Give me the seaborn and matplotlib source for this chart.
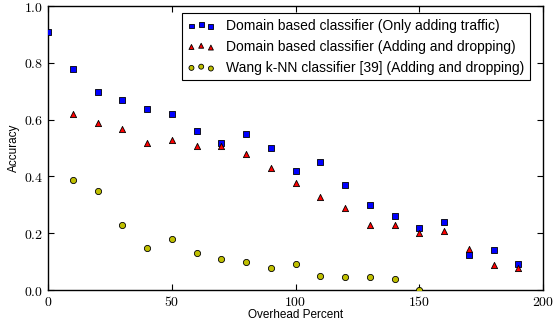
import matplotlib
matplotlib.use("Agg")
import matplotlib.pyplot as plt
import seaborn as sns
import numpy as np
from matplotlib.ticker import FuncFormatter, FixedLocator

# ---- data ----
x_blue = [0, 10, 20, 30, 40, 50, 60, 70, 80, 90, 100, 110, 120, 130, 140, 150, 160, 170, 180, 190]
y_blue = [0.907, 0.778, 0.698, 0.669, 0.638, 0.619, 0.559, 0.519, 0.548, 0.499,
          0.419, 0.452, 0.369, 0.299, 0.259, 0.219, 0.239, 0.124, 0.140, 0.090]
x_red = [10, 20, 30, 40, 50, 60, 70, 80, 90, 100, 110, 120, 130, 140, 150, 160, 170, 180, 190]
y_red = [0.619, 0.587, 0.568, 0.519, 0.528, 0.508, 0.508, 0.478, 0.428,
         0.378, 0.329, 0.288, 0.228, 0.228, 0.200, 0.209, 0.144, 0.089, 0.077]
x_yel = [10, 20, 30, 40, 50, 60, 70, 80, 90, 100, 110, 120, 130, 140, 150]
y_yel = [0.388, 0.349, 0.229, 0.149, 0.180, 0.129, 0.109, 0.100, 0.079,
         0.090, 0.049, 0.045, 0.045, 0.040, 0.0]
labels = ["Domain based classifier (Only adding traffic)",
          "Domain based classifier (Adding and dropping)",
          "Wang k-NN classifier [39] (Adding and dropping)"]
x_ticks = [0, 50, 100, 150, 200]
y_ticks = [0.0, 0.2, 0.4, 0.6, 0.8, 1.0]

plt.rcParams['font.family'] = ['Liberation Sans', 'DejaVu Sans']
plt.rcParams['mathtext.fontset'] = 'cm'

fig = plt.figure(figsize=(5.57, 3.26), dpi=100)
ax = fig.add_axes([48/557, 36/326, (543-48)/557, (290-6)/326])

series = [(x_blue, y_blue, 's', '#0000ff', labels[0]),
          (x_red, y_red, '^', '#ff0000', labels[1]),
          (x_yel, y_yel, 'o', '#bfbf00', labels[2])]
for xs, ys, m, c, lab in series:
    sns.scatterplot(x=xs, y=ys, marker=m, color=c, s=20, edgecolor='black',
                    linewidth=0.6, label=lab, legend=False, ax=ax, clip_on=True, zorder=3)

ax.set_xlim(0, 200)
ax.set_ylim(0, 1.0)
ax.xaxis.set_major_locator(FixedLocator(x_ticks))
ax.yaxis.set_major_locator(FixedLocator(y_ticks))
ax.xaxis.set_major_formatter(FuncFormatter(lambda v, p: r'$%d$' % v))
ax.yaxis.set_major_formatter(FuncFormatter(lambda v, p: r'$%.1f$' % v))
ax.tick_params(direction='in', length=4, width=0.8, top=True, right=True,
               labelsize=10, color='black')
ax.tick_params(axis='x', pad=3.5)
ax.tick_params(axis='y', pad=3.5)
for sp in ax.spines.values():
    sp.set_linewidth(1.0)
    sp.set_color('black')

ax.set_xlabel("Overhead Percent", fontsize=8.5, labelpad=0)
ax.set_ylabel("Accuracy", fontsize=8.5, labelpad=3)

leg = ax.legend(loc='upper right', bbox_to_anchor=(0.9737, 0.975), scatterpoints=3,
                fontsize=10, markerscale=0.8,
                frameon=True, fancybox=False, framealpha=1, edgecolor='black',
                borderaxespad=0.0, handletextpad=0.8, labelspacing=0.5,
                borderpad=0.4, handlelength=2.0)
leg.get_frame().set_linewidth(0.8)

fig.savefig("out.png", dpi=100)
